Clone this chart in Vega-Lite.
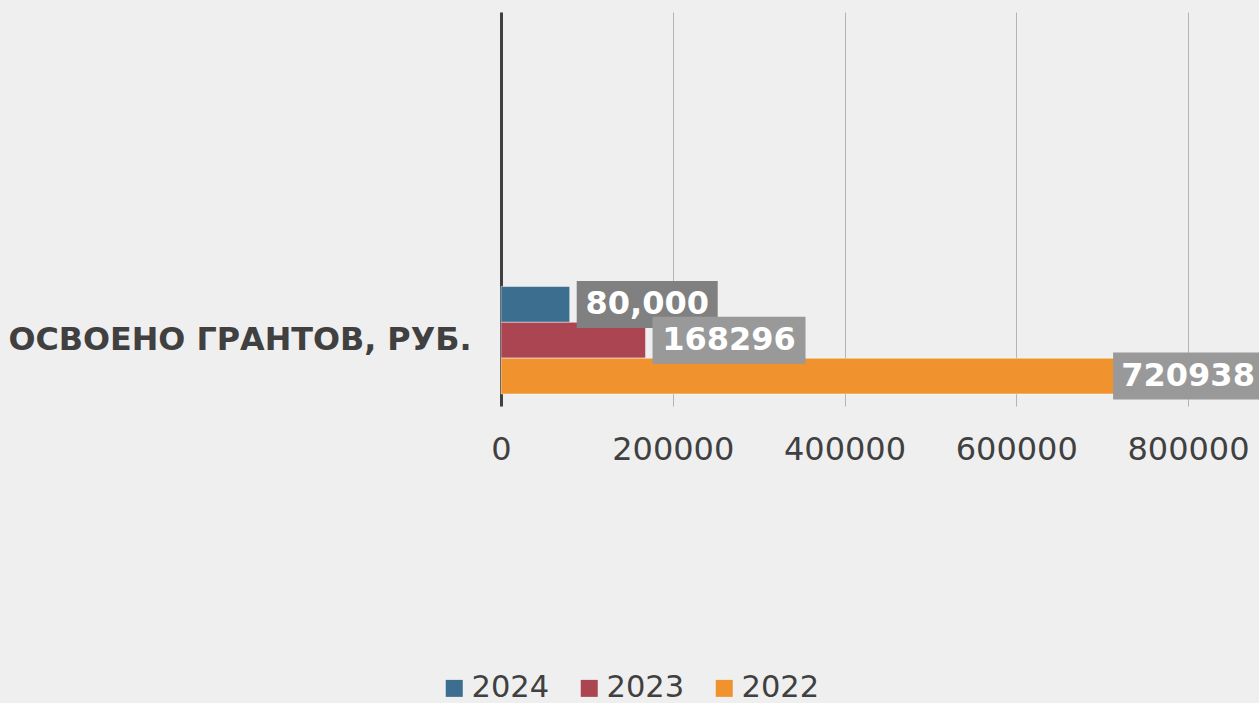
{
  "$schema": "https://vega.github.io/schema/vega-lite/v6.json",
  "autosize": "none",
  "width": 687,
  "height": 394,
  "padding": {"left": 501, "top": 12, "right": 71, "bottom": 297},
  "background": "#efefef",
  "config": {
    "font": "DejaVu Sans",
    "view": {"stroke": null}
  },
  "data": {
    "values": [
      {"category": "ОСВОЕНО ГРАНТОВ, РУБ.", "year": "2024", "value": 80000, "label": "80,000"},
      {"category": "ОСВОЕНО ГРАНТОВ, РУБ.", "year": "2023", "value": 168296, "label": "168296"},
      {"category": "ОСВОЕНО ГРАНТОВ, РУБ.", "year": "2022", "value": 720938, "label": "720938"}
    ]
  },
  "encoding": {
    "x": {
      "field": "value", "type": "quantitative",
      "scale": {"domain": [0, 800000], "nice": false},
      "axis": {
        "title": null, "values": [0, 200000, 400000, 600000, 800000], "format": "d",
        "domain": false, "ticks": false, "grid": true, "gridColor": "#b4b4b4", "gridWidth": 1,
        "labelFontSize": 32, "labelColor": "#404040", "labelPadding": 28, "labelFlush": false
      }
    },
    "y": {
      "field": "category", "type": "nominal",
      "scale": {"paddingInner": 0.2496, "paddingOuter": 1, "align": 0.958},
      "axis": {
        "title": null, "ticks": false, "grid": false,
        "domainColor": "#404040", "domainWidth": 3,
        "labelFontSize": 31.8, "labelFontWeight": "bold", "labelColor": "#404040",
        "labelPadding": 30, "labelLimit": 800
      }
    },
    "yOffset": {
      "field": "year", "type": "nominal",
      "scale": {"domain": ["2024", "2023", "2022"], "paddingInner": 0, "paddingOuter": 0}
    }
  },
  "layer": [
    {
      "mark": {"type": "bar", "stroke": "#ffffff", "strokeOpacity": 0.45, "strokeWidth": 1},
      "encoding": {
        "color": {
          "field": "year", "type": "nominal",
          "scale": {"domain": ["2024", "2023", "2022"], "range": ["#3C6E8F", "#AB4552", "#F0932E"]},
          "legend": {
            "title": null, "orient": "none", "legendX": -62, "legendY": 661,
            "direction": "horizontal", "symbolType": "square", "symbolSize": 289,
            "symbolStrokeWidth": 0, "labelFontSize": 30.5, "labelColor": "#404040",
            "labelOffset": 2, "columnPadding": 24
          }
        }
      }
    },
    {
      "transform": [{"filter": "datum.year == '2024'"}],
      "mark": {"type": "point", "shape": "M0,-0.5H3V0.5H0Z", "size": 8836, "filled": true, "opacity": 1, "fill": "#808080", "strokeWidth": 0, "xOffset": 7}
    },
    {
      "transform": [{"filter": "datum.year == '2023'"}],
      "mark": {"type": "point", "shape": "M0,-0.5H3.255V0.5H0Z", "size": 8836, "filled": true, "opacity": 1, "fill": "#999999", "strokeWidth": 0, "xOffset": 7}
    },
    {
      "transform": [{"filter": "datum.year == '2022'"}],
      "mark": {"type": "point", "shape": "M0,-0.5H3.255V0.5H0Z", "size": 8836, "filled": true, "opacity": 1, "fill": "#999999", "strokeWidth": 0, "xOffset": -7}
    },
    {
      "transform": [{"filter": "datum.year == '2024'"}],
      "mark": {"type": "text", "align": "center", "baseline": "middle", "dx": 77.5, "fontSize": 32, "fontWeight": "bold", "fill": "#ffffff"},
      "encoding": {"text": {"field": "label"}}
    },
    {
      "transform": [{"filter": "datum.year == '2023'"}],
      "mark": {"type": "text", "align": "center", "baseline": "middle", "dx": 83.5, "fontSize": 32, "fontWeight": "bold", "fill": "#ffffff"},
      "encoding": {"text": {"field": "label"}}
    },
    {
      "transform": [{"filter": "datum.year == '2022'"}],
      "mark": {"type": "text", "align": "center", "baseline": "middle", "dx": 68, "fontSize": 32, "fontWeight": "bold", "fill": "#ffffff"},
      "encoding": {"text": {"field": "label"}}
    }
  ]
}
